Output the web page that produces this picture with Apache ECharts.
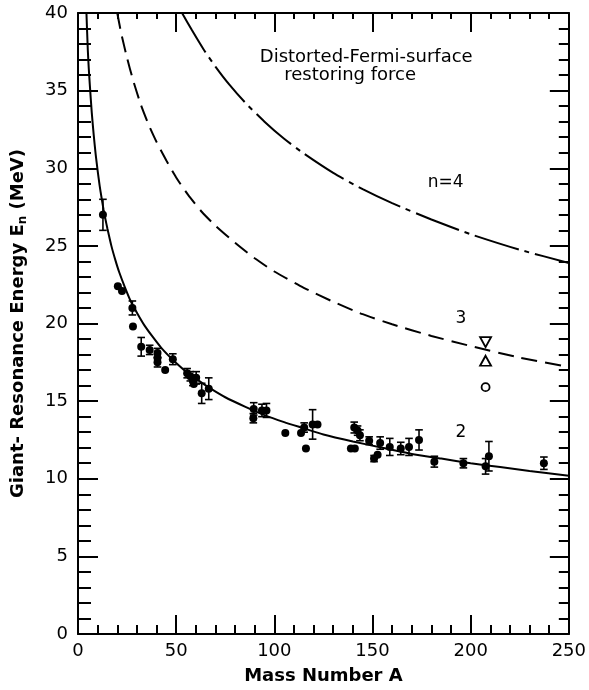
<!DOCTYPE html>
<html>
<head>
<meta charset="utf-8">
<script src="https://cdn.jsdelivr.net/npm/echarts@6/dist/echarts.min.js"></script>
<style>
html,body{margin:0;padding:0;background:#fff;}
#chart{width:589px;height:690px;}
</style>
</head>
<body>
<div id="chart"></div>
<script>
// ---- data ----
const xTicks = [0, 50, 100, 150, 200, 250];
const yTicks = [0, 5, 10, 15, 20, 25, 30, 35, 40];

// measured points (mass number A, energy E_n MeV, half error bar, 0 = none)
const massA  = [12.7, 20.3, 22.4, 27.7, 28.0, 32.2, 36.5, 40.5, 40.5, 40.5, 44.4, 48.3,
                55.6, 57.2, 58.5, 60.2, 59.0, 63.0, 66.6, 89.5, 89.3, 93.7, 96.0,
                105.6, 113.6, 115.2, 116.1, 119.5, 122.0, 139.0, 141.0, 140.7, 142.4, 143.6,
                148.3, 150.8, 152.6, 153.9, 158.8, 164.4, 168.6, 173.7, 181.5, 196.3,
                207.6, 209.3, 237.3];
const energyE = [27.0, 22.4, 22.1, 21.0, 19.8, 18.5, 18.3, 18.1, 17.8, 17.5, 17.0, 17.7,
                16.8, 16.6, 16.3, 16.5, 16.1, 15.5, 15.8, 14.5, 13.9, 14.4, 14.4,
                12.95, 12.95, 13.3, 11.95, 13.5, 13.5, 11.95, 11.95, 13.3, 13.1, 12.8,
                12.45, 11.3, 11.55, 12.3, 12.05, 11.95, 12.05, 12.5, 11.1, 11.0,
                10.8, 11.45, 11.0];
const errE   = [1.0, 0, 0, 0.45, 0, 0.6, 0.3, 0.3, 0, 0.3, 0, 0.35,
                0.3, 0.3, 0.3, 0.4, 0, 0.65, 0.7, 0.4, 0.3, 0.4, 0.45,
                0, 0, 0.3, 0, 0.95, 0, 0, 0, 0.35, 0.3, 0.35,
                0.25, 0.2, 0, 0.4, 0.55, 0.4, 0.55, 0.65, 0.35, 0.3,
                0.5, 0.95, 0.4];

// open symbols at A = 208
const downTriA = [207.6], downTriE = [18.8];
const upTriA   = [207.6], upTriE   = [17.6];
const circA    = [207.6], circE    = [15.9];

// theoretical curves (n = 2, 3, 4)
const curve2A = [4.3, 5, 5.5, 6, 7, 8, 9, 10, 11, 12, 13, 14, 15, 17, 19, 21, 24, 27, 30, 34, 38, 42, 46,
                 50, 55, 60, 67, 75, 85, 95, 105, 115, 125, 140, 155, 170, 185, 200, 215, 230, 250];
const curve2E = [40, 37.6, 36.4, 35.4, 33.6, 32.15, 30.9, 29.85, 28.9, 28.1, 27.35, 26.7, 26.1, 25.0, 24.1,
                 23.3, 22.3, 21.4, 20.7, 19.85, 19.15, 18.5, 17.95, 17.45, 16.9, 16.45, 15.85, 15.25, 14.65,
                 14.1, 13.65, 13.25, 12.85, 12.4, 12.0, 11.6, 11.3, 11.0, 10.75, 10.5, 10.2];
const curve3A = [20, 22, 25, 28, 32, 36, 40, 45, 50, 56, 63, 70, 80, 90, 100, 115, 130, 145, 160, 180, 200, 225, 250];
const curve3E = [40, 38.7, 37.1, 35.7, 34.1, 32.8, 31.7, 30.5, 29.4, 28.3, 27.2, 26.3, 25.2, 24.2, 23.35,
                 22.3, 21.4, 20.6, 19.95, 19.2, 18.55, 17.8, 17.2];
const curve4A = [53, 58, 64, 70, 77, 85, 95, 105, 115, 130, 145, 160, 180, 200, 225, 250];
const curve4E = [40, 38.9, 37.65, 36.55, 35.4, 34.25, 33.0, 31.9, 30.95, 29.7, 28.65, 27.75, 26.7, 25.75, 24.75, 23.9];

// annotations
const annoA = [146.8, 138.6, 187.3, 195, 195];
const annoE = [37.15, 36.0, 29.05, 20.3, 12.95];
const annoText = ['Distorted-Fermi-surface', 'restoring force', 'n=4', '3', '2'];
const annoSize = [18, 18, 17, 17, 17];

// ---- build ----
const zip = (a, b) => a.map((v, i) => [v, b[i]]);
const FONT = 'DejaVu Sans';
const black = '#000';

const axisCommon = {
  type: 'value',
  axisLine: { show: true, onZero: false, lineStyle: { color: black, width: 2 } },
  splitLine: { show: false },
  minorSplitLine: { show: false }
};

const chart = echarts.init(document.getElementById('chart'), null, { renderer: 'canvas' });
chart.setOption({
  backgroundColor: '#fff',
  animation: false,
  grid: { left: 78, right: 19, top: 13, bottom: 54, containLabel: false },
  xAxis: [
    Object.assign({}, axisCommon, {
      position: 'bottom', min: xTicks[0], max: xTicks[xTicks.length - 1], interval: 50,
      axisTick: { show: true, inside: true, length: 19, lineStyle: { color: black, width: 2 } },
      minorTick: { show: true, splitNumber: 5, length: 9, lineStyle: { color: black, width: 2 } },
      axisLabel: { show: true, color: black, fontFamily: FONT, fontSize: 18, margin: 8 },
      name: 'Mass Number A', nameLocation: 'middle', nameGap: 33,
      nameTextStyle: { color: black, fontFamily: FONT, fontSize: 18, fontWeight: 'bold' }
    }),
    Object.assign({}, axisCommon, {
      position: 'top', min: xTicks[0], max: xTicks[xTicks.length - 1], interval: 50,
      axisTick: { show: true, inside: true, length: 19, lineStyle: { color: black, width: 2 } },
      minorTick: { show: true, splitNumber: 5, length: 6, lineStyle: { color: black, width: 2 } },
      axisLabel: { show: false }
    })
  ],
  yAxis: [
    Object.assign({}, axisCommon, {
      position: 'left', min: yTicks[0], max: yTicks[yTicks.length - 1], interval: 5,
      axisTick: { show: true, inside: true, length: 20, lineStyle: { color: black, width: 2 } },
      minorTick: { show: true, splitNumber: 5, length: 13, lineStyle: { color: black, width: 2 } },
      axisLabel: { show: true, color: black, fontFamily: FONT, fontSize: 18, margin: 10 },
      name: '{a|Giant- Resonance Energy E}{s|n}{a| (MeV)}', nameLocation: 'middle', nameGap: 49,
      nameTextStyle: {
        color: black,
        rich: {
          a: { fontFamily: FONT, fontSize: 18, fontWeight: 'bold', color: black },
          s: { fontFamily: FONT, fontSize: 12, fontWeight: 'bold', color: black, verticalAlign: 'bottom', padding: [9, 0, 0, 0] }
        }
      }
    }),
    Object.assign({}, axisCommon, {
      position: 'right', min: yTicks[0], max: yTicks[yTicks.length - 1], interval: 5,
      axisTick: { show: true, inside: true, length: 19, lineStyle: { color: black, width: 2 } },
      minorTick: { show: true, splitNumber: 5, length: 10, lineStyle: { color: black, width: 2 } },
      axisLabel: { show: false }
    })
  ],
  series: [
    {
      type: 'line', data: zip(curve2A, curve2E), smooth: 0.2,
      showSymbol: false, symbol: 'none', clip: true,
      lineStyle: { color: black, width: 2 }, z: 2
    },
    {
      type: 'line', data: zip(curve3A, curve3E), smooth: 0.2,
      showSymbol: false, symbol: 'none', clip: true,
      lineStyle: { color: black, width: 2, type: [16, 8] }, z: 2
    },
    {
      type: 'line', data: zip(curve4A, curve4E), smooth: 0.2,
      showSymbol: false, symbol: 'none', clip: true,
      lineStyle: { color: black, width: 2, type: [46, 6, 5, 6] }, z: 2
    },
    {
      type: 'custom',
      data: massA.map((a, i) => [a, energyE[i], errE[i]]),
      renderItem: function (params, api) {
        const a = api.value(0), e = api.value(1), d = api.value(2);
        if (!d) return null;
        const lo = api.coord([a, e - d]);
        const hi = api.coord([a, e + d]);
        const w = 3.8;
        const st = { stroke: black, lineWidth: 1.6, fill: null };
        return {
          type: 'group',
          children: [
            { type: 'line', shape: { x1: lo[0], y1: lo[1], x2: hi[0], y2: hi[1] }, style: st },
            { type: 'line', shape: { x1: lo[0] - w, y1: lo[1], x2: lo[0] + w, y2: lo[1] }, style: st },
            { type: 'line', shape: { x1: hi[0] - w, y1: hi[1], x2: hi[0] + w, y2: hi[1] }, style: st }
          ]
        };
      },
      z: 3
    },
    {
      type: 'scatter', data: zip(massA, energyE), symbol: 'circle', symbolSize: 8,
      itemStyle: { color: black, opacity: 1 }, z: 4
    },
    {
      type: 'scatter', data: zip(downTriA, downTriE), symbol: 'triangle', symbolRotate: 180, symbolSize: [11, 10],
      itemStyle: { color: '#fff', borderColor: black, borderWidth: 1.8, opacity: 1 }, z: 4
    },
    {
      type: 'scatter', data: zip(upTriA, upTriE), symbol: 'triangle', symbolSize: [11, 10],
      itemStyle: { color: '#fff', borderColor: black, borderWidth: 1.8, opacity: 1 }, z: 4
    },
    {
      type: 'scatter', data: zip(circA, circE), symbol: 'circle', symbolSize: 8,
      itemStyle: { color: '#fff', borderColor: black, borderWidth: 1.8, opacity: 1 }, z: 4
    },
    {
      type: 'scatter', symbolSize: 0, silent: true,
      itemStyle: { color: black, opacity: 1 },
      data: annoA.map((a, i) => ({ value: [a, annoE[i]], label: { formatter: annoText[i], fontSize: annoSize[i] } })),
      label: { show: true, position: 'inside', color: black, opacity: 1, fontFamily: FONT, fontSize: 17 },
      z: 5
    }
  ]
});
</script>
</body>
</html>
